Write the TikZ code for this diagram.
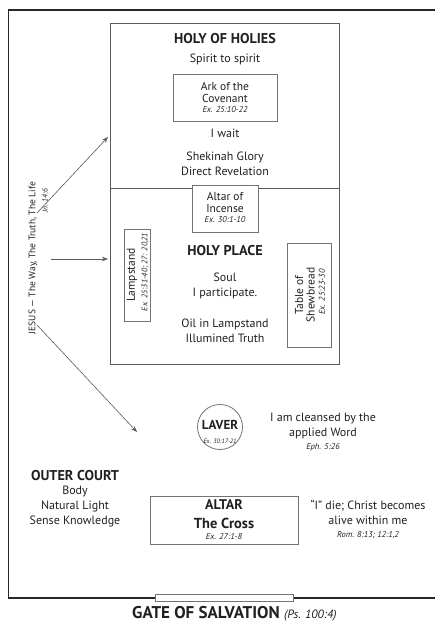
\documentclass[tikz,border=0pt]{standalone}
\usepackage{fontspec}
\setmainfont{PT Sans}
\usetikzlibrary{arrows.meta}
\definecolor{ln}{HTML}{5A5A5A}
\definecolor{tx}{HTML}{231F20}
\begin{document}
\begin{tikzpicture}[x=1pt,y=-1pt,
  every node/.style={text=tx, inner sep=0pt},
  box/.style={draw=ln!85, line width=0.8pt, fill=white, rectangle},
  txt/.style={align=center, font=\fontsize{12}{15}\selectfont},
  tight/.style={align=center, font=\fontsize{11.5}{11.5}\selectfont},
  hd/.style={font=\fontsize{14.2}{16}\selectfont\bfseries},
  hds/.style={font=\fontsize{14}{15}\selectfont\bfseries},
  exr/.style={font=\fontsize{8.5}{9}\selectfont\itshape},
  arr/.style={-{Stealth[length=6pt,width=4.5pt]}, draw=ln, line width=0.6pt}]
\useasboundingbox (0,0) rectangle (435,623);
% outer court frame
\draw[line width=1.8pt, draw=black!85] (437,10) -- (8.5,10) -- (8.5,598) -- (437,598);
\node[box, line width=0.7pt, minimum width=138pt, minimum height=7.4pt] (gate) at (224,598) {};
% tabernacle
\draw[draw=ln, line width=1pt] (110,24) rectangle (339,364);
\draw[draw=ln, line width=1pt] (110,188) -- (339,188);
% holy of holies
\node[hd] (hoh) at (225,39) {HOLY OF HOLIES};
\node[txt] (sts) at (225,59) {Spirit to spirit};
\node[box, minimum width=104pt, minimum height=47pt] (ark) at (225,97.5) {};
\node[tight] (arkt) at (225,92.5) {Ark of the\\Covenant};
\node[exr] (arkr) at (225,110) {Ex. 25:10-22};
\node[txt] (wait) at (225,133) {I wait};
\node[txt] (shek) at (225,163.5) {Shekinah Glory\\Direct Revelation};
% holy place
\node[box, minimum width=66pt, minimum height=47pt] (inc) at (225,208.5) {};
\node[tight] (inct) at (225,202.5) {Altar of\\Incense};
\node[exr] (incr) at (225,220) {Ex. 30:1-10};
\node[box, minimum width=26pt, minimum height=92pt] (lamp) at (137,275) {};
\node[txt, rotate=90, font=\fontsize{11.5}{12}\selectfont] (lampt) at (132,275) {Lampstand};
\node[exr, rotate=90, font=\fontsize{8}{9}\selectfont\itshape] (lampr) at (145,272) {Ex. 25:31-40; 27: 20,21};
\node[hd] (hp) at (225,251) {HOLY PLACE};
\node[txt] (soul) at (225,286) {Soul\\I participate.};
\node[txt] (oil) at (225,331) {Oil in Lampstand\\Illumined Truth};
\node[box, minimum width=44pt, minimum height=104pt] (tab) at (309,295) {};
\node[tight, rotate=90] (tabt) at (305,295) {Table of\\Shewbread};
\node[exr, rotate=90] (tabr) at (322,292) {Ex. 25:23-30};
% Jesus
\node[txt, rotate=90, font=\fontsize{9.5}{12}\selectfont] (jesus) at (33,258) {JESUS — The Way, The Truth, The Life};
\node[exr, rotate=90, font=\fontsize{7.5}{9}\selectfont\itshape] (jn) at (45,201) {Jn. 14:6};
\coordinate (j1) at (37,213);
\coordinate (j2) at (51,259);
\coordinate (j3) at (37,325);
\coordinate (t1) at (108,137);
\coordinate (t2) at (108,259);
\coordinate (t3) at (137,432);
\draw[arr] (j1) -- (t1);
\draw[arr] (j2) -- (t2);
\draw[arr] (j3) -- (t3);
% outer court
\node[circle, draw=ln!85, line width=0.8pt, minimum size=45pt] (laver) at (220,427) {};
\node[hds, font=\fontsize{13}{14}\selectfont\bfseries] (lavt) at (220,425) {LAVER};
\node[exr, font=\fontsize{6.3}{7}\selectfont\itshape] (lavr) at (220,441.5) {Ex. 30:17-21};
\node[txt] (cl) at (323,425.5) {I am cleansed by the\\applied Word};
\node[exr] (clr) at (323,447) {Eph. 5:26};
\node[hd] (oc) at (75,476) {OUTER COURT};
\node[txt] (oct) at (75,507) {Body\\Natural Light\\Sense Knowledge};
\node[box, minimum width=148pt, minimum height=48pt] (alt) at (224,520) {};
\node[hds] (altt) at (224,505) {ALTAR};
\node[hd, font=\fontsize{14.5}{16}\selectfont\bfseries] (cross) at (224,523) {The Cross};
\node[exr] (altr) at (224,537) {Ex. 27:1-8};
\node[txt] (die) at (368,512.5) {“I” die; Christ becomes\\alive within me};
\node[exr] (dier) at (368,535) {Rom. 8:13; 12:1,2};
\node[anchor=west] (gatet) at (132,614) {\fontsize{17}{19}\selectfont\bfseries GATE OF SALVATION \fontsize{12}{13}\selectfont\mdseries\itshape (Ps. 100:4)};
\end{tikzpicture}
\end{document}
